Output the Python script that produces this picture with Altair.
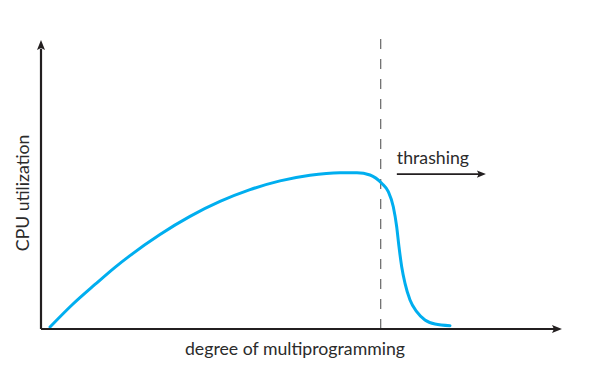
import altair as alt
import pandas as pd

# ---- data (x: degree of multiprogramming, y: CPU utilization; axis length = 100) ----
curve_x = [1.73, 6.14, 10.36, 14.20, 17.08, 22.84, 28.60, 34.36, 40.12, 45.87, 51.63, 57.39,
           60.65, 63.15, 65.39, 66.66, 67.62, 68.27, 68.71, 69.23, 69.87, 70.83, 72.11,
           73.70, 75.62, 78.50]
curve_y = [0.69, 8.65, 15.40, 21.35, 25.40, 32.70, 38.96, 44.12, 48.20, 51.25, 53.22, 54.08,
           54.10, 53.29, 50.42, 47.51, 42.32, 35.40, 28.48, 21.56, 15.81, 10.03, 5.99,
           3.11, 1.73, 1.14]

thrash_x = 65.2          # dashed threshold
thrash_top = 101.7
arrow_from = 68.3
arrow_to = 85.4
arrow_y = 53.6
axis_len = 100.0

label_thrash = "thrashing"
label_x = "degree of multiprogramming"
label_y = "CPU utilization"

# ---- layout ----
W, H = 577, 352
X_DOMAIN = [-6.334, 104.415]
Y_DOMAIN = [-10.73, 111.07]
AX = "#231f20"
BLUE = "#00aeef"
TXT = "#2b2b2b"
FONT = "Lato"
FS = 17.7

def X(f="x"):
    return alt.X(f"{f}:Q", scale=alt.Scale(domain=X_DOMAIN, nice=False, zero=False), axis=None)

def Y(f="y"):
    return alt.Y(f"{f}:Q", scale=alt.Scale(domain=Y_DOMAIN, nice=False, zero=False), axis=None)

curve_df = pd.DataFrame({"x": curve_x, "y": curve_y})
curve = alt.Chart(curve_df).mark_line(color=BLUE, strokeWidth=3, interpolate="monotone",
                                      strokeCap="round").encode(x=X(), y=Y())

dash_df = pd.DataFrame({"x": [thrash_x], "y": [0.0], "y2": [thrash_top]})
dash = alt.Chart(dash_df).mark_rule(color="#666666", strokeWidth=1.2, strokeDash=[10, 10]).encode(
    x=X(), y=Y(), y2="y2:Q")

axes_df = pd.DataFrame({"x": [0.0, 0.0], "x2": [0.0, axis_len - 1.5],
                        "y": [0.0, 0.0], "y2": [axis_len - 3.0, 0.0]})
axes = alt.Chart(axes_df).mark_rule(color=AX, strokeWidth=2.2, strokeCap="butt").encode(
    x=X(), x2="x2:Q", y=Y(), y2="y2:Q")

up_df = pd.DataFrame({"x": [0.0], "y": [axis_len]})
up_head = alt.Chart(up_df).mark_point(shape="M0,0L-0.8,2L0,1.6L0.8,2Z", size=100, filled=True,
                                      opacity=1, color=AX, strokeWidth=0).encode(x=X(), y=Y())
right_df = pd.DataFrame({"x": [axis_len], "y": [0.0]})
right_head = alt.Chart(right_df).mark_point(shape="M0,0L-2,-0.8L-1.6,0L-2,0.8Z", size=100, filled=True,
                                            opacity=1, color=AX, strokeWidth=0).encode(x=X(), y=Y())

arr_df = pd.DataFrame({"x": [arrow_from], "x2": [arrow_to - 1.2], "y": [arrow_y]})
arr = alt.Chart(arr_df).mark_rule(color=AX, strokeWidth=1.6).encode(x=X(), x2="x2:Q", y=Y())
arr_head_df = pd.DataFrame({"x": [arrow_to], "y": [arrow_y]})
arr_head = alt.Chart(arr_head_df).mark_point(shape="M0,0L-2,-0.8L-1.6,0L-2,0.8Z", size=81, filled=True,
                                             opacity=1, color=AX, strokeWidth=0).encode(x=X(), y=Y())

t1 = alt.Chart(pd.DataFrame({"x": [arrow_from], "y": [57.1], "t": [label_thrash]})).mark_text(
    align="left", baseline="alphabetic", font=FONT, fontSize=FS, color=TXT).encode(
    x=X(), y=Y(), text="t:N")
t2 = alt.Chart(pd.DataFrame({"x": [48.75], "y": [-7.3], "t": [label_x]})).mark_text(
    align="center", baseline="middle", font=FONT, fontSize=FS, color=TXT).encode(
    x=X(), y=Y(), text="t:N")
t3 = alt.Chart(pd.DataFrame({"x": [-3.3], "y": [47.1], "t": [label_y]})).mark_text(
    align="center", baseline="middle", angle=270, font=FONT, fontSize=FS, color=TXT).encode(
    x=X(), y=Y(), text="t:N")

chart = alt.layer(dash, curve, axes, up_head, right_head, arr, arr_head, t1, t2, t3).properties(
    width=W, height=H, padding=0, autosize=alt.AutoSizeParams(type="none")
).configure_view(stroke=None)

chart.save("out.html", embed_options={"renderer": "svg", "actions": False})
